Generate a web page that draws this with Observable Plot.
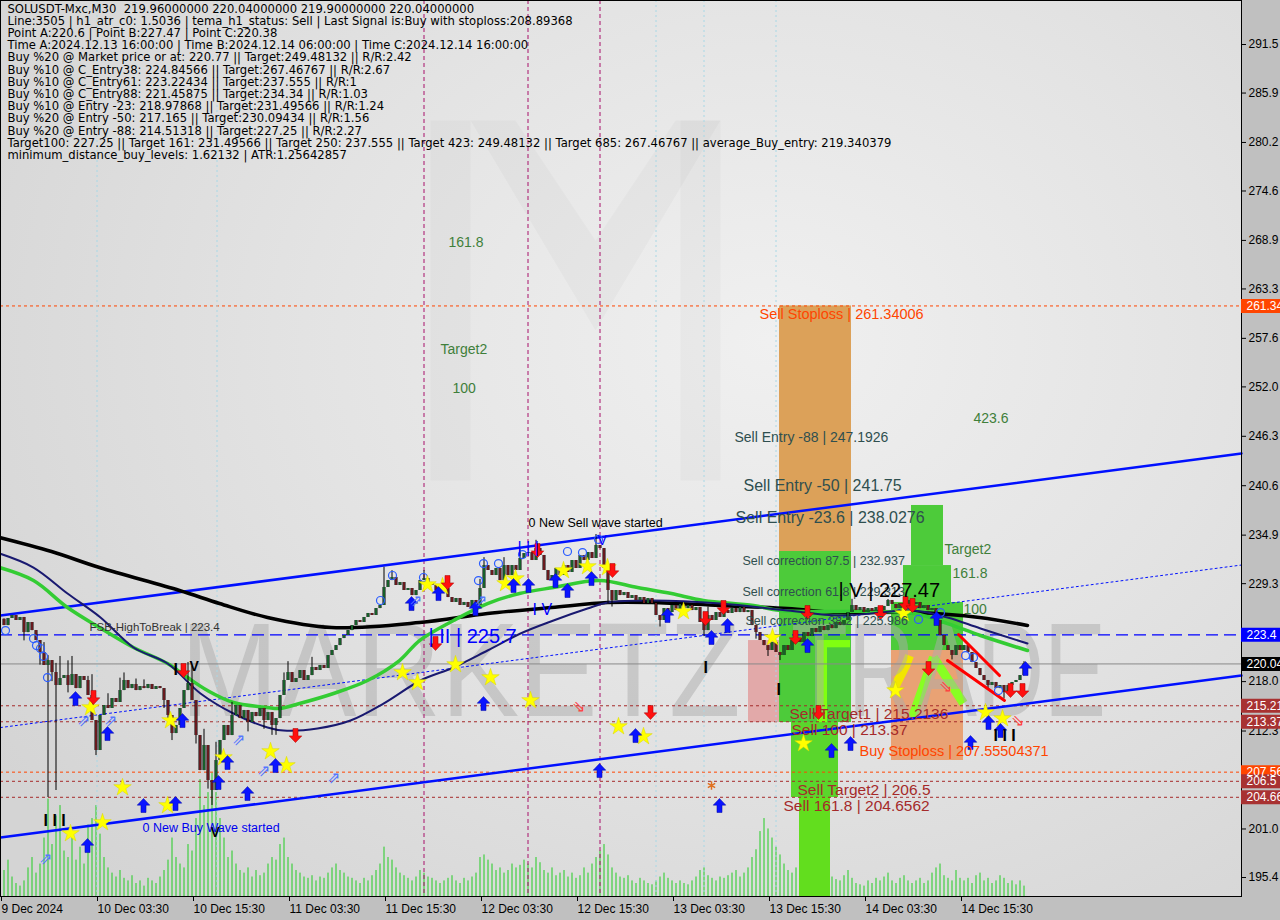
<!DOCTYPE html>
<html><head><meta charset="utf-8">
<script src="https://cdn.jsdelivr.net/npm/d3@7"></script>
<script src="https://cdn.jsdelivr.net/npm/@observablehq/plot@0.6"></script>
<style>
body{margin:0;background:#c0c0c0;}
#wrap{position:relative;width:1280px;height:920px;background:#c0c0c0;overflow:hidden;}
#bg{position:absolute;left:0;top:0;width:1241px;height:896px;background:radial-gradient(ellipse 75% 85% at 62% 38%, #f0f0f0 0%, #e3e3e3 50%, #d4d4d4 100%);}
#vol,#main{position:absolute;left:0;top:0;}
</style></head><body>
<div id="wrap"><div id="bg"></div><div id="vol"></div><div id="main"></div></div>
<script>
// ---------- DATA ----------
const headerLines = [
  "SOLUSDT-Mxc,M30  219.96000000 220.04000000 219.90000000 220.04000000",
  "Line:3505 | h1_atr_c0: 1.5036 | tema_h1_status: Sell | Last Signal is:Buy with stoploss:208.89368",
  "Point A:220.6 | Point B:227.47 | Point C:220.38",
  "Time A:2024.12.13 16:00:00 | Time B:2024.12.14 06:00:00 | Time C:2024.12.14 16:00:00",
  "Buy %20 @ Market price or at: 220.77 || Target:249.48132 || R/R:2.42",
  "Buy %10 @ C_Entry38: 224.84566 || Target:267.46767 || R/R:2.67",
  "Buy %10 @ C_Entry61: 223.22434 || Target:237.555 || R/R:1",
  "Buy %10 @ C_Entry88: 221.45875 || Target:234.34 || R/R:1.03",
  "Buy %10 @ Entry -23: 218.97868 || Target:231.49566 || R/R:1.24",
  "Buy %20 @ Entry -50: 217.165 || Target:230.09434 || R/R:1.56",
  "Buy %20 @ Entry -88: 214.51318 || Target:227.25 || R/R:2.27",
  "Target100: 227.25 || Target 161: 231.49566 || Target 250: 237.555 || Target 423: 249.48132 || Target 685: 267.46767 || average_Buy_entry: 219.340379",
  "minimum_distance_buy_levels: 1.62132 | ATR:1.25642857"
];

const startTime = "2024-12-09T15:30:00Z"; // first M30 bar
const firstOpen = 225.2;
const closes = [
  224.47,225.28,225.63,225.05,225.40,223.66,224.82,223.89,222.74,221.36,
  219.86,220.43,219.05,217.55,218.36,218.70,217.55,218.82,217.20,218.59,
  218.13,216.40,213.51,210.05,214.09,215.24,214.90,216.05,215.59,216.97,
  218.13,217.20,217.67,216.97,217.43,217.20,217.67,217.09,217.43,217.20,
  215.82,214.09,212.01,212.94,214.90,216.97,217.78,215.82,211.78,207.74,
  210.63,206.59,205.44,208.90,211.21,212.94,211.78,214.09,215.24,213.74,
  214.67,213.28,214.44,213.97,214.90,213.51,214.44,212.94,213.74,216.40,
  218.13,219.05,217.90,218.36,219.28,218.13,218.70,219.63,219.28,219.86,
  219.51,221.01,221.59,222.16,222.97,223.32,223.89,224.47,225.05,224.82,
  225.40,225.86,225.63,226.43,226.78,228.86,229.66,230.01,229.09,229.43,
  228.51,228.74,227.93,228.51,229.66,229.89,229.32,229.09,228.51,229.09,
  228.74,227.70,227.13,227.59,226.78,227.13,226.55,227.36,226.78,228.74,
  231.39,230.82,230.24,231.05,229.66,231.39,230.24,231.39,230.82,232.20,
  232.78,232.89,231.97,233.35,232.55,230.82,229.66,230.24,231.05,230.24,
  231.39,230.59,231.97,231.05,232.55,231.97,232.89,232.20,233.70,233.35,
  231.05,228.51,227.36,228.51,227.93,228.28,227.59,227.93,227.36,227.70,
  227.01,227.59,227.01,225.63,225.05,226.43,225.97,226.78,226.20,226.90,
  226.43,226.78,226.20,226.55,224.82,223.89,225.63,225.05,225.97,225.40,
  226.20,225.86,226.43,225.97,226.55,225.97,226.20,224.47,223.66,222.74,
  222.16,221.59,222.51,221.36,221.01,222.16,221.59,222.74,222.97,222.51,
  223.66,223.20,224.12,223.66,224.36,223.89,224.47,224.12,224.82,224.47,
  225.05,225.97,226.78,226.20,226.55,225.97,226.43,226.09,226.55,226.20,
  226.67,227.36,226.90,226.43,227.01,226.67,227.36,226.90,227.13,226.43,
  226.78,226.20,226.43,225.05,223.32,222.16,221.59,221.01,222.16,221.59,
  222.16,221.36,220.20,219.51,218.70,218.13,217.55,217.90,217.20,217.55,
  216.74,217.55,217.90,218.13,218.70,220.04
];
// notable wick extremes [bar index, price]
const wickHighs = [[10,222.5],[11,221.0],[13,220.1],[14,220.9],[16,220.4],[17,220.9],[21,218.6],[22,218.8],[26,216.6],[29,218.4],[30,219.0],[33,218.3],[35,218.2],[46,220.2],[47,219.8],[50,212.5],[53,211.0],[57,215.6],[70,219.0],[71,220.3],[77,220.8],[95,231.19],[97,230.8],[105,230.8],[119,229.8],[120,232.3],[125,232.3],[129,233.2],[133,234.3],[148,234.97],[176,226.6],[212,227.5],[221,227.47],[255,220.3]];
const wickLows = [[5,222.7],[9,219.9],[11,204.63],[12,218.0],[13,205.44],[16,216.7],[23,209.47],[40,214.9],[41,213.2],[42,211.2],[48,210.8],[51,205.6],[52,203.71],[61,212.2],[65,212.5],[67,211.8],[68,211.8],[151,227.0],[152,226.6],[164,224.3],[175,223.2],[188,222.9],[191,220.9],[194,220.43],[237,220.5],[246,217.0],[250,216.0]];
const volumes = [
  20,28,15,10,8,12,22,30,18,25, 45,75,40,62,70,35,30,45,28,38,
  25,55,60,70,48,30,22,18,15,20, 14,12,16,10,12,8,14,12,10,15,
  20,28,45,30,25,22,40,35,60,90, 70,80,95,80,60,45,30,35,25,20,
  18,22,15,20,16,18,25,30,28,40, 45,30,25,20,18,15,14,16,12,15,
  14,18,22,25,20,18,15,14,12,10, 14,12,16,20,25,38,30,28,22,18,
  16,14,12,15,20,18,15,14,12,10, 12,14,16,12,10,14,12,15,18,30,
  32,28,25,20,22,18,20,25,22,24, 28,25,22,30,26,20,18,22,16,18,
  20,15,18,14,16,22,18,25,30,35, 40,32,22,18,15,14,16,12,10,14,
  12,10,9,12,15,18,14,12,10,12, 10,9,12,15,20,22,16,14,12,15,
  14,16,18,20,15,18,22,30,36,50, 60,52,45,38,32,25,20,18,22,16,
  14,20,16,12,14,10,12,15,13,12, 16,20,14,10,9,8,12,10,14,12,
  15,18,12,10,14,16,12,10,12,14, 10,12,18,22,25,16,14,12,20,14,
  12,14,10,16,18,12,14,10,12,16, 14,10,12,9,12,8
];
// moving averages [bar index, price]
const maSlow = [[-1,234.63],[12,233.01],[24,231.16],[44,228.51],[54,227.01],[66,225.40],[82,224.24],[104,224.82],[121,225.86],[137,226.55],[151,227.13],[162,227.13],[179,226.78],[196,226.43],[209,225.97],[228,225.97],[244,225.40],[256,224.47]];
const maMid = [[-1,232.78],[7.5,231.16],[16,228.16],[24.25,225.40],[32.5,221.94],[41,220.09],[49.25,216.63],[57.5,214.32],[66,212.71],[70,212.36],[78.5,212.59],[86.75,213.51],[95,215.47],[104.25,218.13],[112.5,219.63],[121,221.59],[129.25,223.55],[137.5,225.05],[146,226.43],[151,227.13],[162.5,227.36],[179.25,227.01],[196,226.20],[209.25,225.63],[227.5,226.20],[236,225.40],[244.25,224.13],[256,222.40]];
const maFast = [[-1,231.16],[7.5,229.66],[16,226.55],[24,224.24],[32.5,221.94],[41,220.09],[46,218.47],[51,216.97],[57.5,215.59],[66,215.01],[69,214.90],[74,215.47],[82.5,216.63],[91,218.13],[99,220.43],[104,222.74],[112.5,225.05],[121,227.01],[129,228.16],[137.5,228.86],[149,229.66],[158.5,228.86],[167,228.16],[175,227.36],[187.5,226.78],[194.25,226.20],[227.5,225.86],[236,224.70],[244.25,223.32],[256,221.59]];
// trend channel [bar index, price]
const channelUpper = [[-0.75,225.63],[309.5,244.32]];
const channelLower = [[-0.75,200.02],[309.5,218.70]];
const channelMid = [[-0.75,212.70],[309.5,231.45]];
const redWedge = [
  {id:"a", pts:[[238.75,223.43],[249,218.70]]},
  {id:"b", pts:[[236,220.43],[250.25,215.82]]}
];
// horizontal levels
const stopLevels = [261.34006, 207.55504371];
const targetLevels = [215.2136, 213.37, 206.5, 204.6562];
const breakLevel = 223.4;
const lastPrice = 220.04;
// vertical markers (bar index)
const waveVerticals = [105, 131, 149];
const sessionVerticals = [23.25, 53.25, 163, 175, 193];
// zones [from bar, to bar, low price, high price]
const zones = [
  {k:"sellStop", i1:194, i2:212, lo:233.01, hi:261.34},
  {k:"green", i1:194, i2:212, lo:213.28, hi:233.01},
  {k:"green2", i1:197, i2:208.75, lo:204.63, hi:213.28},
  {k:"green3", i1:199, i2:206.75, lo:193.21, hi:204.63},
  {k:"pink", i1:186.25, i2:194, lo:213.28, hi:222.74},
  {k:"lime", i1:203.5, i2:206, lo:213.28, hi:222.74},
  {k:"lime", i1:203.5, i2:211.75, lo:221.9, hi:222.74},
  {k:"green", i1:227, i2:235, lo:231.39, hi:238.32},
  {k:"green", i1:225, i2:237, lo:227.13, hi:231.39},
  {k:"green", i1:222, i2:240, lo:221.59, hi:227.13},
  {k:"buyZone", i1:222, i2:240, lo:208.90, hi:221.59}
];
const accentLines = [
  {id:"l1", k:"lime", pts:[[227.25,213.9],[232.5,220.8]]},
  {id:"l2", k:"lime", pts:[[232.5,220.8],[240,215.5]]},
  {id:"y1", k:"yellow", pts:[[222.5,217.1],[225.5,219.8],[226.5,221.0]]}
];
// faint logo outline [bar index, price]
const logoShapes = [
  {id:"left", pts:[[106.75,282.73],[116.75,282.73],[116.75,241.2],[106.75,241.2]]},
  {id:"v", pts:[[116.75,282.73],[128,282.73],[148,268.89],[168,282.73],[179.25,282.73],[148,258.51]]},
  {id:"right", pts:[[169.25,282.73],[179.25,282.73],[179.25,241.2],[169.25,241.2]]}
];
// labels on the chart [text, bar index, price]
const fibGreen = [["161.8",111.25,268.66],["Target2",109.25,256.31],["100",112.25,251.81],["423.6",242.5,248.35],["Target2",235.25,233.24],["161.8",237.25,230.47],["100",240,226.32]];
const sellEntries = [["Sell Entry -88 | 247.1926",182.75,246.16,14],["Sell Entry -50 | 241.75",185,240.62,16],["Sell Entry -23.6 | 238.0276",183,236.93,16]];
const sellCorrections = [["Sell correction 87.5 | 232.937",184.75,231.97],["Sell correction 61.8 | 229.313",184.75,228.39],["Sell correction 38.2 | 225.986",185.5,225.05]];
const stopTexts = [["Sell Stoploss | 261.34006",189,260.35],["Buy Stoploss | 207.55504371",214,209.93]];
const targetTexts = [["Sell Target1 | 215.2136",196.5,214.21],["Sell 100 | 213.37",197,212.36],["Sell Target2 | 206.5",198.5,205.44],["Sell 161.8 | 204.6562",195,203.59]];
const waveTextsBlue = [["| II | 225.7",106.25,223.2,20],["I V",132.25,226.32,16],["| | |",128.5,233.47,16],["V",148.5,234.28,14]];
const waveTextsBlack = [["| V | 227.47",208.75,228.51,20],["I",175,219.63,16],["I",193.25,217.09,16],["I I I",247.5,211.78,16],["I I I",10,201.98,16],["I",42.5,219.3,16],["V",46.5,219.7,14],["V",51.75,200.6,14]];
const infoTexts = [["FSB-HighToBreak | 223.4",21.5,224.24,"#333333",11.5],["0 New Sell wave started",131.25,236.35,"#000000",12.5],["0 New Buy Wave started",34.75,201.17,"#0000ee",12.5]];
const watermark = [["MARKETZ",114.25,218.94,560],["TRADE",236.25,218.94,315]];
// signals [bar index, price]
const buyArrows = [[18,216.05],[26,212.01],[35,203.71],[43,203.94],[21,199.09],[44.75,213.51],[53.75,206.36],[56,208.67],[61,205.09],[68,208.32],[108.75,228.16],[102,227.01],[120,215.47],[118,226.43],[127.5,229.09],[131.25,229.09],[138,229.66],[141,228.51],[147,229.89],[158,211.78],[149,207.74],[166,225.63],[177,223.09],[179,203.71],[181,224.47],[201,222.16],[207,210.05],[211.75,210.86],[233.25,225.28],[241.75,210.97],[246.25,213.28],[249.25,212.36],[255.5,219.51]];
const sellArrows = [[22.5,216.17],[45,219.28],[73,211.78],[108,222.4],[111,229.43],[133.5,233.12],[152.25,230.82],[161.75,214.44],[175.5,225.28],[180,226.55],[198,223.09],[201,225.97],[203.75,214.44],[219.25,225.97],[225.5,227.01],[227.25,226.78],[231.25,219.51],[251.75,216.97],[254.75,216.97]];
const stars = [[21.75,215.01],[29.75,205.78],[41,203.71],[16.75,200.48],[24.75,201.74],[41.75,213.51],[55,209.24],[66.75,209.94],[70.75,208.32],[99.75,219.05],[103.5,217.9],[106,229.2],[109.75,228.97],[113,219.97],[121.75,218.47],[125.5,229.32],[128,229.89],[131.75,215.82],[140,230.82],[146,231.28],[151,231.16],[153.75,212.82],[160,211.67],[170,226.09],[192.25,223.09],[200,210.86],[223,216.97],[225,225.86],[249.75,213.74],[245.5,214.44]];
const rings = [[7.5,222.97],[8.25,222.16],[9.25,221.82],[10,220.9],[11,218.47],[0.5,223.89],[94.25,227.36],[97.25,230.24],[105,230.01],[118.75,229.66],[120,231.62],[123.75,231.62],[129.75,232.66],[141,233.01],[144.75,232.89],[148.75,234.4],[228.75,225.17],[234.25,225.97],[240.5,221.01],[242.5,220.78],[248.75,216.97]];
const hollowUp = [[10.5,197.59],[20,213.51],[26.75,213.51],[65,207.74],[82.5,206.94],[58.75,211.32],[103,227.36],[119.25,227.36]];
const hollowDown = [[143.75,215.13],[235.5,217.44],[253.5,213.51]];
// axis ticks
const priceTicks = [195.4,201.0,206.7,212.3,218.0,223.6,229.3,234.9,240.6,246.3,252.0,257.6,263.3,268.9,274.6,280.2,285.9,291.5];
const timeTicks = ["2024-12-09T15:30Z","2024-12-10T03:30Z","2024-12-10T15:30Z","2024-12-11T03:30Z","2024-12-11T15:30Z","2024-12-12T03:30Z","2024-12-12T15:30Z","2024-12-13T03:30Z","2024-12-13T15:30Z","2024-12-14T03:30Z","2024-12-14T15:30Z"];
const priceTags = [[261.34006,"261.34","stop"],[223.4,"223.4","break"],[lastPrice,"220.04","last"],[215.2136,"215.21","target"],[213.37,"213.37","target"],[207.55504371,"207.56","stop"],[206.5,"206.5","target"],[204.6562,"204.66","target"]];

// ---------- BUILD ----------
const t0 = Date.parse(startTime);
const STEP = 30 * 60 * 1000;
const T = i => new Date(t0 + i * STEP);
const xDomain = [T(-0.75), T(309.5)];
const yDomain = [193.21, 296.577];
const hiMap = new Map(wickHighs), loMap = new Map(wickLows);
const candles = closes.map((c, i) => {
  const o = i === 0 ? firstOpen : closes[i - 1];
  return {t: T(i), o, c, h: hiMap.get(i) ?? Math.max(o, c), l: loMap.get(i) ?? Math.min(o, c), up: c >= o};
});
const vol = volumes.map((v, i) => ({t: T(i), v}));
const pt = a => ({t: T(a[0]), p: a[1]});
const zoneColor = {sellStop:"#dca159", green:"#4dcb3a", green2:"#5ad62c", green3:"#62de1e", pink:"#e2a9a9", lime:"#80ff10", buyZone:"#e9a274"};
const tagColor = {stop:"#ff4500", break:"#0000ff", last:"#000000", target:"#a83232"};
const font = "'Liberation Sans', Arial, sans-serif";

function arrowSymbol(up) {
  return {draw(ctx, size) {
    const r = Math.sqrt(size / Math.PI), s = up ? 1 : -1;
    ctx.moveTo(0, -r * s);
    ctx.lineTo(0.9 * r, -0.05 * r * s);
    ctx.lineTo(0.36 * r, -0.05 * r * s);
    ctx.lineTo(0.36 * r, r * s);
    ctx.lineTo(-0.36 * r, r * s);
    ctx.lineTo(-0.36 * r, -0.05 * r * s);
    ctx.lineTo(-0.9 * r, -0.05 * r * s);
    ctx.closePath();
  }};
}
const lineOf = (arr, opts) => Plot.line(arr.map(pt), {x: "t", y: "p", ...opts});
const txt = (arr, opts) => Plot.text(arr, {x: d => T(d[1]), y: d => d[2], text: d => d[0], textAnchor: "start", lineAnchor: "middle", ...opts});

const tEnd = T(309.5), tOut = T(309.5 + 12);

const volPlot = Plot.plot({
  width: 1280, height: 920, marginLeft: 0, marginRight: 39, marginTop: 796, marginBottom: 24,
  x: {type: "utc", domain: xDomain, axis: null},
  y: {domain: [0, 77], axis: null},
  style: {background: "transparent"},
  marks: [Plot.ruleX(vol, {x: "t", y1: 0, y2: "v", dx: 0.5, stroke: "#22cc22", strokeWidth: 1})]
});
document.getElementById("vol").appendChild(volPlot);

const main = Plot.plot({
  width: 1280, height: 920, marginLeft: 0, marginRight: 39, marginTop: 0, marginBottom: 24,
  x: {type: "utc", domain: xDomain},
  y: {domain: yDomain},
  style: {background: "transparent", fontFamily: font, fontSize: "12px", color: "#000"},
  marks: [
    // faint logo
    ...logoShapes.map(s => Plot.line([...s.pts, s.pts[0]].map(pt), {x: "t", y: "p", fill: "#000", fillOpacity: 0.022, stroke: "none"})),
    // zones
    Plot.rect(zones, {x1: d => T(d.i1), x2: d => T(d.i2), y1: "lo", y2: "hi", fill: d => zoneColor[d.k]}),
    ...accentLines.map(a => lineOf(a.pts, {stroke: a.k === "lime" ? "#88ff22" : "#f2e600", strokeWidth: 9, strokeLinecap: "butt"})),
    // watermark
    Plot.text(watermark, {x: d => T(d[1]), y: d => d[2], text: d => d[0], fontSize: 134, fill: "#acacac", fillOpacity: 0.5, textAnchor: "middle", lineAnchor: "middle", fontFamily: font}),
    // levels
    Plot.ruleY(stopLevels, {stroke: "#ff4500", strokeDasharray: "3,3", strokeWidth: 1}),
    Plot.ruleY(targetLevels, {stroke: "#a52a2a", strokeDasharray: "3,3", strokeWidth: 1}),
    Plot.ruleY([breakLevel], {stroke: "#0000ff", strokeDasharray: "12,6", strokeWidth: 1.2}),
    Plot.ruleY([lastPrice], {stroke: "#8a8a8a", strokeWidth: 1}),
    Plot.ruleX(waveVerticals.map(T), {dx: 0.5, stroke: "#a8106a", strokeDasharray: "4,3", strokeWidth: 1}),
    Plot.ruleX(sessionVerticals.map(T), {dx: 0.5, stroke: "#a8d8e6", strokeDasharray: "2,3", strokeWidth: 1}),
    // channel
    lineOf(channelUpper, {stroke: "#0010ff", strokeWidth: 2.5}),
    lineOf(channelLower, {stroke: "#0010ff", strokeWidth: 2.5}),
    lineOf(channelMid, {stroke: "#0010ff", strokeWidth: 1, strokeDasharray: "2,3"}),
    // moving averages
    lineOf(maSlow, {stroke: "#000000", strokeWidth: 3.5, curve: "catmull-rom"}),
    lineOf(maFast, {stroke: "#33cc33", strokeWidth: 3.5, curve: "catmull-rom"}),
    lineOf(maMid, {stroke: "#191970", strokeWidth: 2, curve: "catmull-rom"}),
    // candles
    Plot.ruleX(candles, {x: "t", y1: "l", y2: "h", dx: 0.5, stroke: "#000", strokeWidth: 1}),
    Plot.ruleX(candles, {x: "t", y1: "o", y2: "c", dx: 0.5, stroke: "#000", strokeWidth: 3}),
    Plot.ruleX(candles.filter(d => d.up), {x: "t", y1: "o", y2: "c", dx: 0.5, stroke: "#2fbf55", strokeWidth: 1}),
    Plot.ruleX(candles.filter(d => !d.up), {x: "t", y1: "o", y2: "c", dx: 0.5, stroke: "#d0343c", strokeWidth: 1}),
    // red wedge
    ...redWedge.map(w => lineOf(w.pts, {stroke: "#ff0000", strokeWidth: 3})),
    // signals
    Plot.dot(rings.map(pt), {x: "t", y: "p", r: 4, stroke: "#2a5cff", strokeWidth: 1.2, fill: "none"}),
    Plot.dot(stars.map(pt), {x: "t", y: "p", r: 5.5, symbol: "star", fill: "#ffff00", stroke: "#d8d800", strokeWidth: 0.5}),
    Plot.dot(buyArrows.map(pt), {x: "t", y: "p", r: 7, symbol: arrowSymbol(true), fill: "#0a14ff", stroke: "#0008a0", strokeWidth: 0.5}),
    Plot.dot(sellArrows.map(pt), {x: "t", y: "p", r: 7, symbol: arrowSymbol(false), fill: "#ff1010", stroke: "#a00000", strokeWidth: 0.5}),
    Plot.text(hollowUp.map(pt), {x: "t", y: "p", text: () => "⇗", fontSize: 16, fill: "#5577ff"}),
    Plot.text(hollowDown.map(pt), {x: "t", y: "p", text: () => "⇘", fontSize: 16, fill: "#ff4040"}),
    Plot.dot([pt([177, 206.02])], {x: "t", y: "p", r: 4, symbol: "asterisk", stroke: "#e07020", strokeWidth: 1.5}),
    // labels
    txt(fibGreen, {fill: "#3f7f3a", fontSize: 14}),
    ...sellEntries.map(d => txt([d], {fill: "#2f4f4f", fontSize: d[3]})),
    txt(sellCorrections, {fill: "#2f4f4f", fontSize: 12.5}),
    txt(stopTexts, {fill: "#ff4500", fontSize: 14.5}),
    txt(targetTexts, {fill: "#a52a2a", fontSize: 15.5}),
    ...waveTextsBlue.map(d => txt([d], {fill: "#0000ff", fontSize: d[3]})),
    ...waveTextsBlack.map(d => txt([d], {fill: "#000", fontSize: d[3], fontWeight: d[0].length < 6 ? "bold" : "normal"})),
    ...infoTexts.map(d => txt([d], {fill: d[3], fontSize: d[4]})),
    // header
    Plot.text(headerLines, {frameAnchor: "top-left", dx: 7, text: d => d, textAnchor: "start", lineAnchor: "middle", fontSize: 11.6, fontFamily: "'DejaVu Sans', sans-serif", fill: "#000"}),
    // axes
    Plot.frame({stroke: "#000", strokeWidth: 1}),
    Plot.axisY(priceTicks, {anchor: "right", tickSize: 4, tickPadding: 3, tickFormat: d => d.toFixed(1), label: null, fontSize: 12, stroke: "#000"}),
    Plot.axisX(timeTicks.map(s => new Date(s)), {anchor: "bottom", tickSize: 5, tickPadding: 3, textAnchor: "start", dx: -2, label: null, fontSize: 12, stroke: "#000",
      tickFormat: (d, i) => i === 0 ? "9 Dec 2024" : `${d.getUTCDate()} Dec ${String(d.getUTCHours()).padStart(2,"0")}:${String(d.getUTCMinutes()).padStart(2,"0")}`}),
    // right price tags
    Plot.ruleY(priceTags, {y: d => d[0], x1: tEnd, x2: tOut, stroke: d => tagColor[d[2]], strokeWidth: 14}),
    Plot.text(priceTags, {y: d => d[0], x: tEnd, dx: 5, text: d => d[1], textAnchor: "start", fill: "#ffffff", fontSize: 12})
  ]
});
document.getElementById("main").appendChild(main);

// stack header lines and fit watermark words to their width
d3.select(main).selectAll("text").each(function() {
  const w = watermark.find(d => d[0] === this.textContent);
  if (w) { this.setAttribute("textLength", w[3]); this.setAttribute("lengthAdjust", "spacingAndGlyphs"); }
  const h = headerLines.indexOf(this.textContent);
  if (h >= 0) { this.setAttribute("y", 12 + h * 12.2); }
});
</script></body></html>
